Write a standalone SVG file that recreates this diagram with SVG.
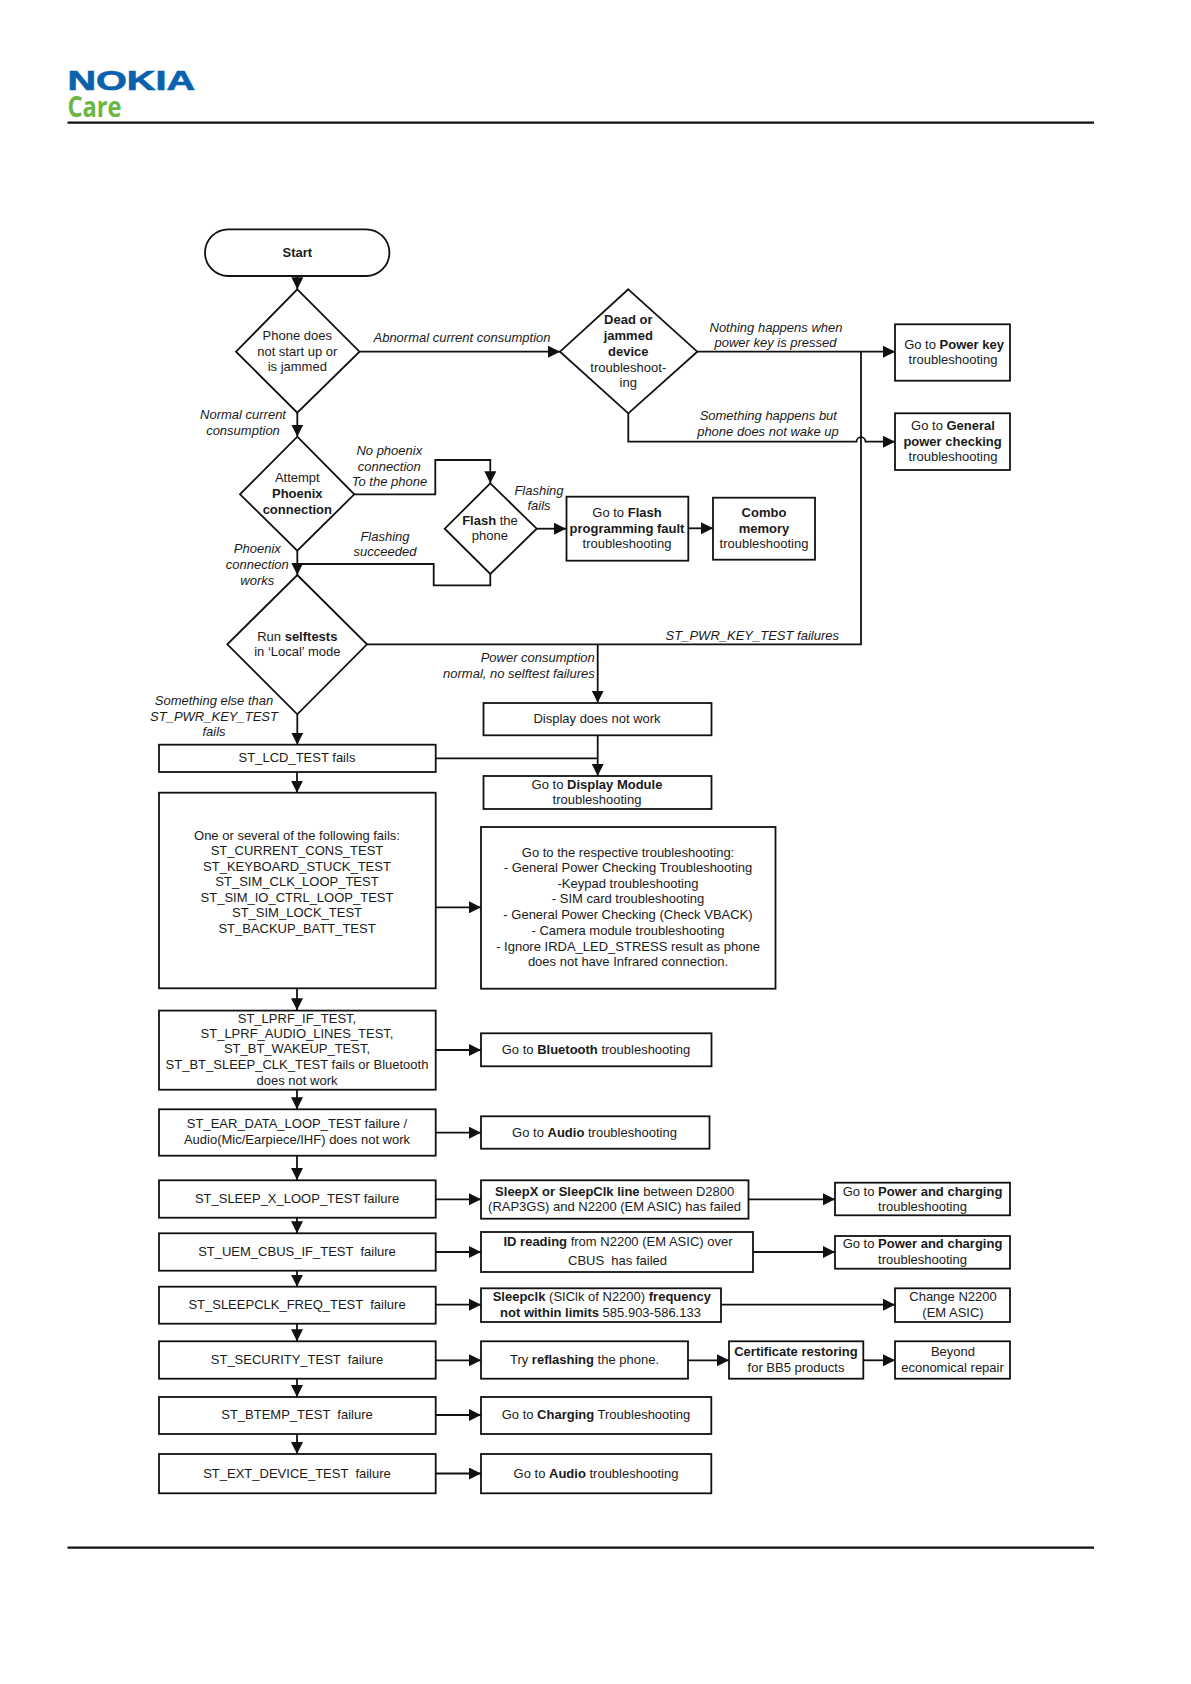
<svg xmlns="http://www.w3.org/2000/svg" width="1191" height="1684" viewBox="0 0 1191 1684">
<style>
text{font-family:"Liberation Sans",Arial,sans-serif;font-size:13px;fill:#1a1a1a;text-anchor:middle;transform:translateY(4.5px)}
.i{font-style:italic}
.r{text-anchor:end}
.b,tspan.b{font-weight:bold}
.s{fill:#fff;stroke:#111;stroke-width:1.8}
.c{fill:none;stroke:#111;stroke-width:1.8}
.a{marker-end:url(#arr)}
.rule{stroke:#111;stroke-width:2.2}
</style>
<defs>
<marker id="arr" viewBox="0 0 12 12" markerUnits="userSpaceOnUse" markerWidth="12" markerHeight="12" refX="12" refY="6" orient="auto"><path d="M0 0L12 6L0 12Z" fill="#111"/></marker>
</defs>
<rect width="1191" height="1684" fill="#fff"/>
<g id="header">
<text x="67.5" y="85.2" style="font-size:28px;font-weight:bold;fill:#0a62ae;stroke:#0a62ae;stroke-width:.7;text-anchor:start" textLength="127.5" lengthAdjust="spacingAndGlyphs">NOKIA</text>
<text x="67.5" y="112.4" style="font-family:'Open Sans','Liberation Sans',sans-serif;font-size:28px;font-weight:bold;fill:#6cb644;text-anchor:start" textLength="54" lengthAdjust="spacingAndGlyphs">Care</text>
<line class="rule" x1="67.5" y1="122.7" x2="1094" y2="122.7"/>
<line class="rule" x1="67.5" y1="1547.7" x2="1094" y2="1547.7"/>
</g>
<g id="connectors">
<path class="c a" d="M297.3 276V289.3"/>
<path class="c a" d="M359.5 351.7H560"/>
<path class="c a" d="M297.3 412.7V436.7"/>
<path class="c a" d="M697.3 351.7H895"/>
<path class="c a" d="M628.3 413.3V441.7H856.5A4.5 4.5 0 0 1 865.5 441.7H895"/>
<path class="c" d="M367 644.3H861V351.7"/>
<path class="c a" d="M354.3 494.3H435.3V460H490.3V483.3"/>
<path class="c a" d="M536.7 528.7H566"/>
<path class="c a" d="M688.3 528.3H713"/>
<path class="c" d="M490.3 574V585.3H433.7V564H297.3"/>
<path class="c a" d="M297.3 550.7V575"/>
<path class="c a" d="M597.7 644.3V702.7"/>
<path class="c a" d="M297.3 714.3V744.7"/>
<path class="c a" d="M597.7 735.3V776"/>
<path class="c" d="M435.7 758.3H597.7"/>
<path class="c a" d="M297 772V792.7"/>
<path class="c a" d="M436 907.3H481"/>
<path class="c a" d="M297 988.3V1010.3"/>
<path class="c a" d="M436 1050H481"/>
<path class="c a" d="M297 1089.7V1109.3"/>
<path class="c a" d="M436 1132.7H481"/>
<path class="c a" d="M297 1155.7V1180"/>
<path class="c a" d="M436 1199.3H481"/>
<path class="c a" d="M748.5 1199.3H835"/>
<path class="c a" d="M297 1217.7V1233.3"/>
<path class="c a" d="M436 1252H481"/>
<path class="c a" d="M753 1252H835"/>
<path class="c a" d="M297 1270.7V1286.7"/>
<path class="c a" d="M436 1304.7H481"/>
<path class="c a" d="M721 1304.7H895"/>
<path class="c a" d="M297 1323.7V1341.3"/>
<path class="c a" d="M436 1360.3H481"/>
<path class="c a" d="M688 1360.3H729"/>
<path class="c a" d="M863.3 1360.3H895"/>
<path class="c a" d="M297 1378.7V1397"/>
<path class="c a" d="M436 1415H481"/>
<path class="c a" d="M297 1434V1454"/>
<path class="c a" d="M436 1473.5H481"/>
</g>
<g id="labels">
<text class="i" x="462" y="337">Abnormal current consumption</text>
<text class="i" x="243" y="414.5">Normal current</text>
<text class="i" x="243" y="430">consumption</text>
<text class="i" x="776" y="327.3">Nothing happens when</text>
<text class="i" x="775.5" y="342.7">power key is pressed</text>
<text class="i" x="768.3" y="415.7">Something happens but</text>
<text class="i" x="768" y="431.3">phone does not wake up</text>
<text class="i" x="389.3" y="450.7">No phoenix</text>
<text class="i" x="389.3" y="466">connection</text>
<text class="i" x="389.5" y="481.3">To the phone</text>
<text class="i" x="539" y="490.3">Flashing</text>
<text class="i" x="539" y="505.3">fails</text>
<text class="i" x="385" y="536.3">Flashing</text>
<text class="i" x="385" y="551.5">succeeded</text>
<text class="i" x="257.3" y="548.5">Phoenix</text>
<text class="i" x="257.3" y="564.5">connection</text>
<text class="i" x="257.3" y="580.5">works</text>
<text class="i r" x="839" y="635.5">ST_PWR_KEY_TEST failures</text>
<text class="i r" x="594.8" y="657.5">Power consumption</text>
<text class="i r" x="594.8" y="673">normal, no selftest failures</text>
<text class="i" x="214" y="700.5">Something else than</text>
<text class="i" x="214" y="716">ST_PWR_KEY_TEST</text>
<text class="i" x="214" y="731.5">fails</text>
</g>
<g id="start"><rect class="s" x="205" y="229.3" width="184.4" height="46.7" rx="23.3"/><text class="b" x="297.3" y="252">Start</text></g>
<g id="d-phone"><path class="s" d="M297.3 289.3L359.5 351.7L297.3 412.7L236 351.7Z"/><text x="297.3" y="335.7">Phone does</text><text x="297.3" y="351.7">not start up or</text><text x="297.3" y="366.7">is jammed</text></g>
<g id="d-dead"><path class="s" d="M628.3 289.3L697.3 351.7L628.3 413.3L560 351.7Z"/><text class="b" x="628.3" y="319.5">Dead or</text><text class="b" x="628.3" y="335.7">jammed</text><text class="b" x="628.3" y="351.5">device</text><text x="628.3" y="367">troubleshoot-</text><text x="628.3" y="382.3">ing</text></g>
<g id="n-powerkey"><rect class="s" x="895" y="324.3" width="115" height="56.4"/><text x="954" y="344">Go to <tspan class="b">Power key</tspan></text><text x="953" y="359.3">troubleshooting</text></g>
<g id="n-general"><rect class="s" x="895" y="413.3" width="115" height="56.7"/><text x="953" y="425.3">Go to <tspan class="b">General</tspan></text><text class="b" x="952.5" y="441">power checking</text><text x="953" y="456.3">troubleshooting</text></g>
<g id="d-attempt"><path class="s" d="M297.3 436.7L354.3 494.3L297.3 550.7L240 494.3Z"/><text x="297.3" y="477.7">Attempt</text><text class="b" x="297.3" y="493.7">Phoenix</text><text class="b" x="297.3" y="509.3">connection</text></g>
<g id="d-flash"><path class="s" d="M490.3 483.3L536.7 528.7L490.3 574L444.7 528.7Z"/><text x="490" y="520.3"><tspan class="b">Flash</tspan> the</text><text x="489.8" y="535.5">phone</text></g>
<g id="n-flashfault"><rect class="s" x="566.5" y="496.7" width="121.8" height="64"/><text x="627" y="512.3">Go to <tspan class="b">Flash</tspan></text><text class="b" x="627" y="528.3">programming fault</text><text x="627" y="543.7">troubleshooting</text></g>
<g id="n-combo"><rect class="s" x="713" y="497.7" width="102" height="62"/><text class="b" x="764" y="512.3">Combo</text><text class="b" x="764" y="528.3">memory</text><text x="764" y="543.7">troubleshooting</text></g>
<g id="d-selftests"><path class="s" d="M297.3 575L367 644.3L297.3 714.3L227.3 644.3Z"/><text x="297.3" y="636">Run <tspan class="b">selftests</tspan></text><text x="297.3" y="651.5">in ‘Local’ mode</text></g>
<g id="n-display"><rect class="s" x="483.5" y="703" width="228" height="32.3"/><text x="597" y="718.5">Display does not work</text></g>
<g id="n-lcd"><rect class="s" x="159" y="744.7" width="276.7" height="27.3"/><text x="297" y="757.3">ST_LCD_TEST fails</text></g>
<g id="n-gotodisplay"><rect class="s" x="483.5" y="776" width="228" height="33"/><text x="597" y="784">Go to <tspan class="b">Display Module</tspan></text><text x="597" y="799.5">troubleshooting</text></g>
<g id="n-several"><rect class="s" x="159" y="792.7" width="276.7" height="195.6"/><text x="297" y="835">One or several of the following fails:</text><text x="297" y="850.5">ST_CURRENT_CONS_TEST</text><text x="297" y="866">ST_KEYBOARD_STUCK_TEST</text><text x="297" y="881.5">ST_SIM_CLK_LOOP_TEST</text><text x="297" y="897">ST_SIM_IO_CTRL_LOOP_TEST</text><text x="297" y="912.7">ST_SIM_LOCK_TEST</text><text x="297" y="928.5">ST_BACKUP_BATT_TEST</text></g>
<g id="n-respective"><rect class="s" x="481" y="827" width="294.5" height="161.7"/><text x="628" y="852">Go to the respective troubleshooting:</text><text x="628" y="867.7">- General Power Checking Troubleshooting</text><text x="628" y="883.5">-Keypad troubleshooting</text><text x="628" y="898.7">- SIM card troubleshooting</text><text x="628" y="914.5">- General Power Checking (Check VBACK)</text><text x="628" y="930.5">- Camera module troubleshooting</text><text x="628" y="946">- Ignore IRDA_LED_STRESS result as phone</text><text x="628" y="961">does not have Infrared connection.</text></g>
<g id="n-lprf"><rect class="s" x="159" y="1010.6" width="276.7" height="79.1"/><text x="297" y="1018.5">ST_LPRF_IF_TEST,</text><text x="297" y="1033.5">ST_LPRF_AUDIO_LINES_TEST,</text><text x="297" y="1048.7">ST_BT_WAKEUP_TEST,</text><text x="297" y="1064.7">ST_BT_SLEEP_CLK_TEST fails or Bluetooth</text><text x="297" y="1080.5">does not work</text></g>
<g id="n-bluetooth"><rect class="s" x="481" y="1033.3" width="230.5" height="33"/><text x="596" y="1049">Go to <tspan class="b">Bluetooth</tspan> troubleshooting</text></g>
<g id="n-ear"><rect class="s" x="159" y="1109.3" width="276.7" height="46.4"/><text x="297" y="1123.7">ST_EAR_DATA_LOOP_TEST failure /</text><text x="297" y="1139.5">Audio(Mic/Earpiece/IHF) does not work</text></g>
<g id="n-audio1"><rect class="s" x="481" y="1116.3" width="228.5" height="32.4"/><text x="594.5" y="1132">Go to <tspan class="b">Audio</tspan> troubleshooting</text></g>
<g id="n-sleepx"><rect class="s" x="159" y="1180.3" width="276.7" height="37.4"/><text x="297" y="1198.5">ST_SLEEP_X_LOOP_TEST failure</text></g>
<g id="n-sleepline"><rect class="s" x="481" y="1180.3" width="267.5" height="38.4"/><text x="614.7" y="1191"><tspan class="b">SleepX or SleepClk line</tspan> between D2800</text><text x="614.5" y="1206.5">(RAP3GS) and N2200 (EM ASIC) has failed</text></g>
<g id="n-power1"><rect class="s" x="835" y="1182.7" width="175" height="32.6"/><text x="922.5" y="1191">Go to <tspan class="b">Power and charging</tspan></text><text x="922.5" y="1206.5">troubleshooting</text></g>
<g id="n-uem"><rect class="s" x="159" y="1233.3" width="276.7" height="37.4"/><text x="297" y="1251.7" xml:space="preserve">ST_UEM_CBUS_IF_TEST  failure</text></g>
<g id="n-idread"><rect class="s" x="481" y="1232" width="272" height="40"/><text x="618" y="1241.5"><tspan class="b">ID reading</tspan> from N2200 (EM ASIC) over</text><text x="617.5" y="1260.5" xml:space="preserve">CBUS  has failed</text></g>
<g id="n-power2"><rect class="s" x="835" y="1236" width="175" height="32.7"/><text x="922.5" y="1243.3">Go to <tspan class="b">Power and charging</tspan></text><text x="922.5" y="1259">troubleshooting</text></g>
<g id="n-sleepclk"><rect class="s" x="159" y="1286.7" width="276.7" height="37"/><text x="297" y="1304" xml:space="preserve">ST_SLEEPCLK_FREQ_TEST  failure</text></g>
<g id="n-freq"><rect class="s" x="481" y="1288.3" width="240" height="33.7"/><text x="601.8" y="1296.3"><tspan class="b">Sleepclk</tspan> (SIClk of N2200) <tspan class="b">frequency</tspan></text><text x="600.5" y="1312.3"><tspan class="b">not within limits</tspan> 585.903-586.133</text></g>
<g id="n-change"><rect class="s" x="895" y="1288.3" width="115" height="33.7"/><text x="953" y="1296.3">Change N2200</text><text x="953" y="1312.3">(EM ASIC)</text></g>
<g id="n-security"><rect class="s" x="159" y="1341.3" width="276.7" height="37.4"/><text x="297" y="1359.5" xml:space="preserve">ST_SECURITY_TEST  failure</text></g>
<g id="n-reflash"><rect class="s" x="481" y="1341.3" width="207" height="37.4"/><text x="584.5" y="1359.5">Try <tspan class="b">reflashing</tspan> the phone.</text></g>
<g id="n-cert"><rect class="s" x="729" y="1341.3" width="134.3" height="37.4"/><text class="b" x="796" y="1351.5">Certificate restoring</text><text x="796" y="1367">for BB5 products</text></g>
<g id="n-beyond"><rect class="s" x="895" y="1341.3" width="115" height="37.4"/><text x="953" y="1351.5">Beyond</text><text x="952.5" y="1367">economical repair</text></g>
<g id="n-btemp"><rect class="s" x="159" y="1397" width="276.7" height="37"/><text x="297" y="1414.5" xml:space="preserve">ST_BTEMP_TEST  failure</text></g>
<g id="n-charging"><rect class="s" x="481" y="1397" width="230.3" height="37"/><text x="596" y="1414.5">Go to <tspan class="b">Charging</tspan> Troubleshooting</text></g>
<g id="n-ext"><rect class="s" x="159" y="1454" width="276.7" height="39.3"/><text x="297" y="1473.3" xml:space="preserve">ST_EXT_DEVICE_TEST  failure</text></g>
<g id="n-audio2"><rect class="s" x="481" y="1454" width="230.3" height="39.3"/><text x="596" y="1473.3">Go to <tspan class="b">Audio</tspan> troubleshooting</text></g>
</svg>
